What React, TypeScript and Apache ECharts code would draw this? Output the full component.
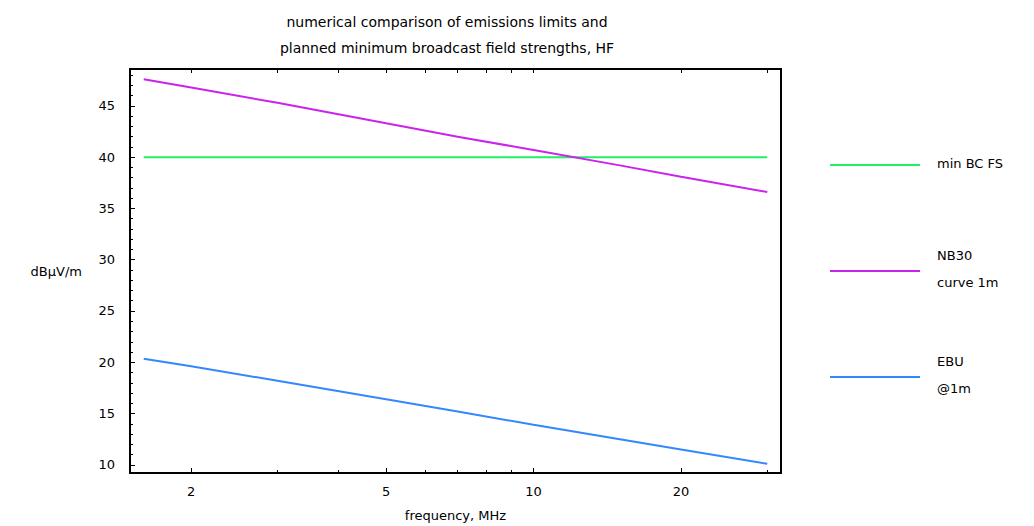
import React, { useEffect, useRef } from "react";
import * as echarts from "echarts";

const freqs = [1.6, 2, 3, 5, 7, 10, 15, 20, 30];
const minBcFs = [40, 40, 40, 40, 40, 40, 40, 40, 40];
const nb30 = [47.6, 46.8, 45.3, 43.3, 42.0, 40.7, 39.2, 38.1, 36.6];
const ebu = [20.35, 19.6, 18.2, 16.4, 15.2, 13.9, 12.5, 11.5, 10.1];

const xMajor = [2, 5, 10, 20];
const xMinor = [3, 4, 6, 7, 8, 9, 30];
const xTop = [2, 3, 4, 5, 6, 7, 8, 9, 10, 20, 30];
const yMajor = [10, 15, 20, 25, 30, 35, 40, 45];
const yMinor = [11, 12, 13, 14, 16, 17, 18, 19, 21, 22, 23, 24, 26, 27, 28, 29, 31, 32, 33, 34, 36, 37, 38, 39, 41, 42, 43, 44, 46, 47, 48];

const titleLines = [
  "numerical comparison of emissions limits and",
  "planned minimum broadcast field strengths, HF",
];
const seriesNames = ["min BC FS", "NB30\ncurve 1m", "EBU\n@1m"];
const colors = ["#22ee66", "#cc22ee", "#3388ff"];

const FONT = "DejaVu Sans";
const X_MIN = 1.5;
const X_MAX = 32;
const Y_MIN = 9.2;
const Y_MAX = 48.6;

export default function App() {
  const ref = useRef<HTMLDivElement>(null);
  useEffect(() => {
    if (!ref.current) return;
    const chart = echarts.init(ref.current, undefined, { renderer: "svg" });
    const mk = (vals: number[]) => freqs.map((f, i) => [f, vals[i]]);
    const legendY = [165, 271, 377];
    const legendGraphics: any[] = [];
    seriesNames.forEach((name, i) => {
      legendGraphics.push({
        type: "line",
        shape: { x1: 830, y1: legendY[i], x2: 920, y2: legendY[i] },
        style: { stroke: colors[i], lineWidth: 2 },
      });
      const lines = name.split("\n");
      lines.forEach((ln, j) => {
        const off = lines.length === 1 ? 0 : j === 0 ? -14 : 13;
        legendGraphics.push({
          type: "text",
          x: 937,
          y: legendY[i] - 2 + off,
          style: {
            text: ln,
            font: `13px "${FONT}"`,
            fill: "#000",
            textAlign: "left",
            textVerticalAlign: "middle",
          },
        });
      });
    });
    const titleGraphics = titleLines.map((t, i) => ({
      type: "text",
      x: 447,
      y: i === 0 ? 22 : 48,
      style: {
        text: t,
        font: `14px "${FONT}"`,
        fill: "#000",
        textAlign: "center",
        textVerticalAlign: "middle",
      },
    }));

    const baseX = {
      type: "log",
      logBase: 10,
      min: X_MIN,
      max: X_MAX,
      splitLine: { show: false },
      minorTick: { show: false },
      minorSplitLine: { show: false },
    };
    const baseY = {
      type: "value",
      min: Y_MIN,
      max: Y_MAX,
      splitLine: { show: false },
    };

    chart.setOption({
      animation: false,
      backgroundColor: "#fff",
      textStyle: { fontFamily: FONT },
      grid: {
        left: 130,
        right: 253,
        top: 69,
        bottom: 53,
        show: true,
        borderColor: "#000",
        borderWidth: 2,
        backgroundColor: "transparent",
        containLabel: false,
        outerBoundsMode: "none",
      },
      xAxis: [
        {
          ...baseX,
          position: "bottom",
          name: "frequency, MHz",
          nameLocation: "middle",
          nameGap: 36,
          nameTextStyle: { color: "#000", fontSize: 13, fontFamily: FONT },
          axisLine: { show: true, lineStyle: { color: "#000", width: 2 } },
          axisTick: {
            show: true,
            inside: true,
            length: 5,
            customValues: xMajor,
            lineStyle: { color: "#000", width: 1 },
          },
          axisLabel: {
            show: true,
            customValues: xMajor,
            color: "#000",
            fontSize: 13,
            fontFamily: FONT,
            margin: 12,
            formatter: (v: number) => String(v),
          },
        },
        {
          ...baseX,
          position: "bottom",
          axisLine: { show: false },
          axisTick: {
            show: true,
            inside: true,
            length: 3,
            customValues: xMinor,
            lineStyle: { color: "#000", width: 1 },
          },
          axisLabel: { show: false },
        },
        {
          ...baseX,
          position: "top",
          axisLine: { show: true, lineStyle: { color: "#000", width: 2 } },
          axisTick: {
            show: true,
            inside: true,
            length: 4,
            customValues: xTop,
            lineStyle: { color: "#000", width: 1 },
          },
          axisLabel: { show: false },
        },
      ],
      yAxis: [
        {
          ...baseY,
          position: "left",
          name: "dBμV/m",
          nameLocation: "middle",
          nameRotate: 0,
          nameGap: 48,
          nameTextStyle: { color: "#000", fontSize: 13, fontFamily: FONT },
          axisLine: { show: true, lineStyle: { color: "#000", width: 2 } },
          axisTick: {
            show: true,
            inside: true,
            length: 5,
            customValues: yMajor,
            lineStyle: { color: "#000", width: 1 },
          },
          axisLabel: {
            show: true,
            customValues: yMajor,
            color: "#000",
            fontSize: 13,
            fontFamily: FONT,
            margin: 15,
          },
        },
        {
          ...baseY,
          position: "left",
          axisLine: { show: false },
          axisTick: {
            show: true,
            inside: true,
            length: 3,
            customValues: yMinor,
            lineStyle: { color: "#000", width: 1 },
          },
          axisLabel: { show: false },
        },
      ],
      series: [
        { name: "min BC FS", data: mk(minBcFs), color: colors[0] },
        { name: "NB30 curve 1m", data: mk(nb30), color: colors[1] },
        { name: "EBU @1m", data: mk(ebu), color: colors[2] },
      ].map((s) => ({
        type: "line",
        name: s.name,
        data: s.data,
        xAxisIndex: 0,
        yAxisIndex: 0,
        showSymbol: false,
        symbol: "none",
        lineStyle: { color: s.color, width: 2 },
        itemStyle: { color: s.color },
      })),
      graphic: [...titleGraphics, ...legendGraphics],
    });
    return () => chart.dispose();
  }, []);
  return (
    <div
      ref={ref}
      style={{ position: "absolute", left: 0, top: 0, width: 1034, height: 526 }}
    />
  );
}
